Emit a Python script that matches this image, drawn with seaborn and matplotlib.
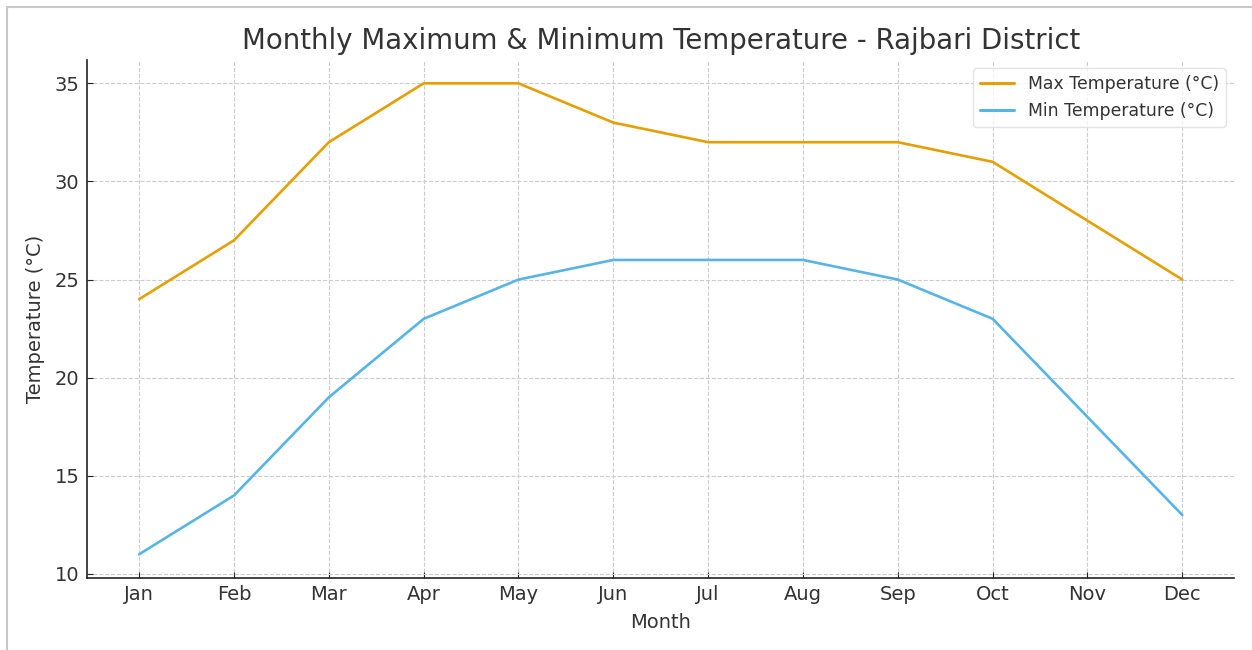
import matplotlib
matplotlib.use("Agg")
import matplotlib.pyplot as plt
import seaborn as sns
import pandas as pd
from matplotlib.lines import Line2D

months = ["Jan", "Feb", "Mar", "Apr", "May", "Jun", "Jul", "Aug", "Sep", "Oct", "Nov", "Dec"]
max_temp = [24, 27, 32, 35, 35, 33, 32, 32, 32, 31, 28, 25]
min_temp = [11, 14, 19, 23, 25, 26, 26, 26, 25, 23, 18, 13]
series_names = ["Max Temperature (°C)", "Min Temperature (°C)"]
colors = ["#E69F00", "#56B4E9"]

df = pd.DataFrame({
    "Month": months * 2,
    "Temperature": max_temp + min_temp,
    "Series": [series_names[0]] * 12 + [series_names[1]] * 12,
})

sns.set_style("ticks")
plt.rcParams["font.family"] = ["DejaVu Sans"]
text_color = "#333333"

fig = plt.figure(figsize=(12.52, 6.5), dpi=100)
ax = fig.add_axes([0.0695, 0.111, 0.9165, 0.797])

sns.lineplot(data=df, x="Month", y="Temperature", hue="Series",
             palette=colors, linewidth=1.9, ax=ax, sort=False)

ax.grid(True, linestyle="--", color="#cccccc", linewidth=0.8)
ax.set_axisbelow(True)
for s in ["top", "right"]:
    ax.spines[s].set_visible(False)
for s in ["left", "bottom"]:
    ax.spines[s].set_color("#222222")
    ax.spines[s].set_linewidth(1.2)

ax.set_yticks([10, 15, 20, 25, 30, 35])
ax.tick_params(axis="both", labelsize=14, colors="#222222", labelcolor=text_color,
               length=4, direction="in", pad=5.5)
ax.set_title("Monthly Maximum & Minimum Temperature - Rajbari District",
             fontsize=19.9, color=text_color, pad=8)
ax.set_xlabel("Month", fontsize=14, color=text_color, labelpad=6)
ax.set_ylabel("Temperature (°C)", fontsize=14, color=text_color, labelpad=7)

leg = ax.legend(loc="upper right", fontsize=12.4, frameon=True, title=None,
                bbox_to_anchor=(1.0, 1.0))
for t in leg.get_texts():
    t.set_color(text_color)
for h in leg.get_lines():
    h.set_linewidth(2.2)
leg.get_frame().set_edgecolor("#dddddd")

# screenshot-style border (left and top)
fig.add_artist(Line2D([7 / 1252, 7 / 1252], [0, 1 - 7 / 650], transform=fig.transFigure,
                      color="#c8c8c8", linewidth=1.5))
fig.add_artist(Line2D([7 / 1252, 1], [1 - 7 / 650, 1 - 7 / 650], transform=fig.transFigure,
                      color="#c8c8c8", linewidth=1.5))

fig.savefig("out.png", dpi=100)
